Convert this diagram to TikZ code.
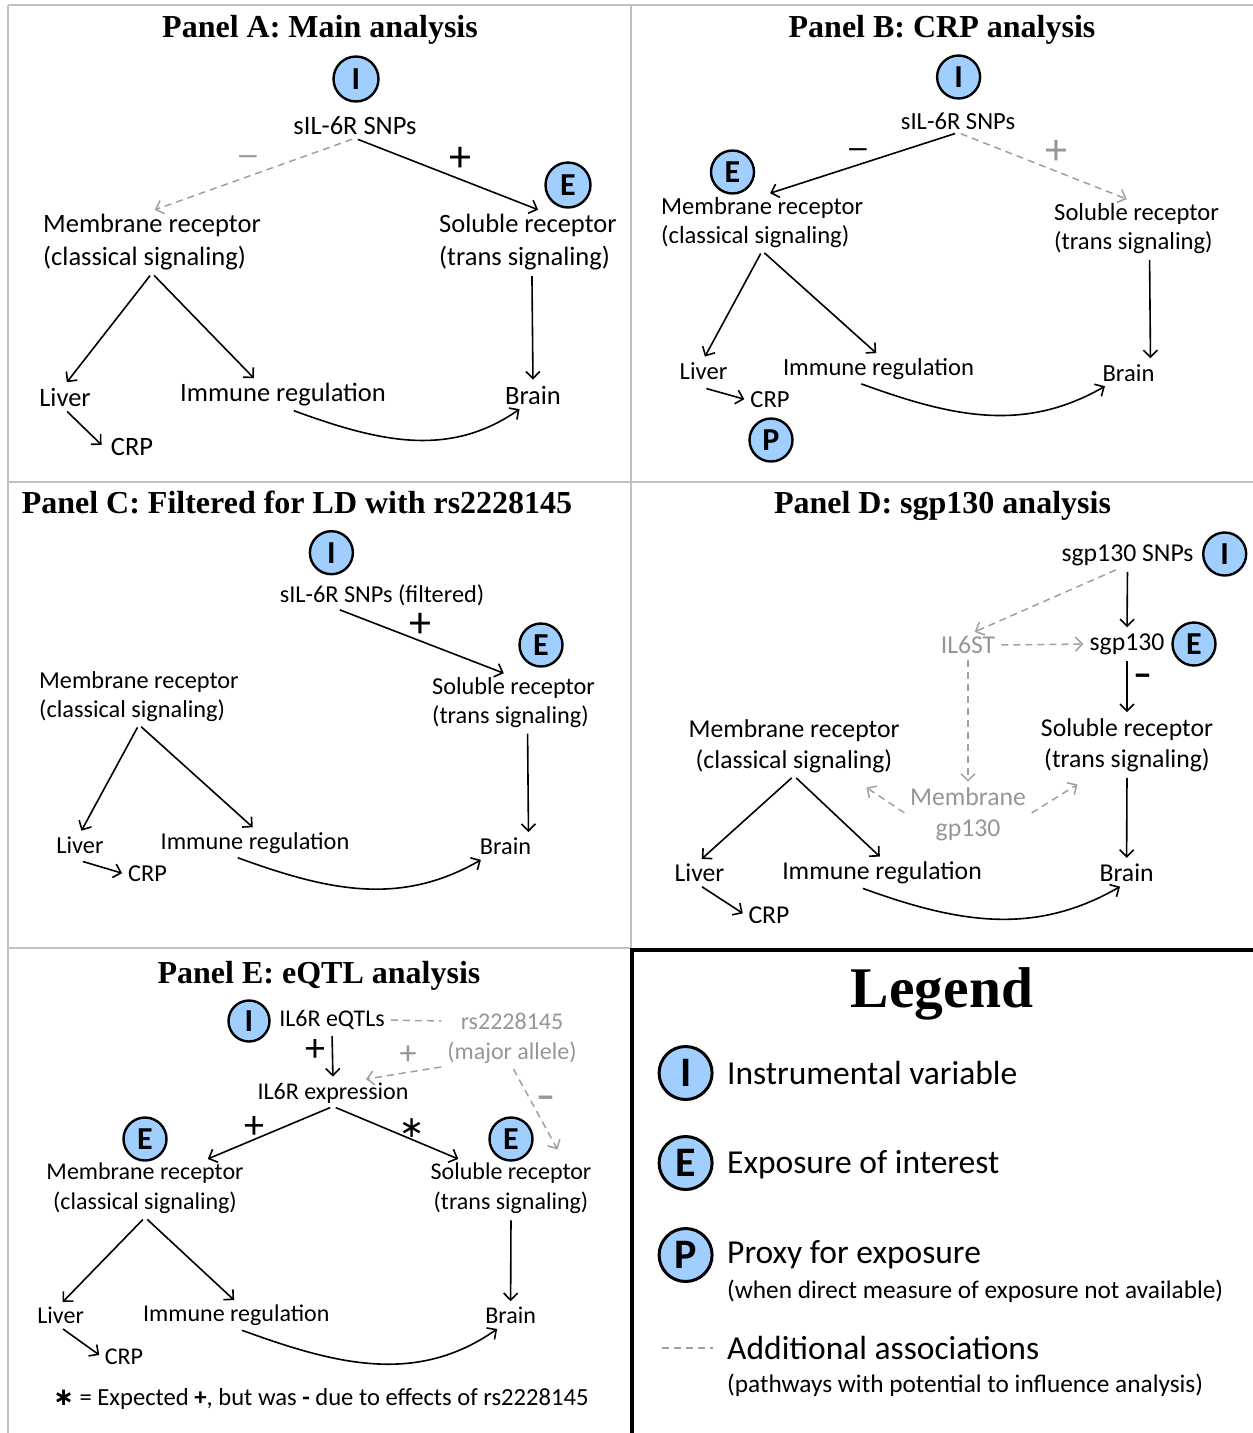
\documentclass[tikz,border=0pt]{standalone}
\usepackage{fontspec}
\setmainfont{Carlito}
\newfontfamily\ttlfont{Liberation Serif}
\newfontfamily\djv{DejaVu Sans}
\usetikzlibrary{arrows.meta}
\definecolor{cblue}{RGB}{160,207,255}
\definecolor{gtxt}{RGB}{150,150,150}
\definecolor{gline}{RGB}{160,160,160}
\definecolor{framec}{RGB}{192,192,192}
\tikzset{
  ttl/.style={font=\ttlfont\bfseries\fontsize{32}{36}\selectfont, inner sep=0pt, anchor=base},
  circ/.style={circle, draw=black, line width=2.4pt, fill=cblue, inner sep=0pt, minimum size=43pt, font=\bfseries\fontsize{32}{32}\selectfont},
  lcirc/.style={circ, minimum size=53pt, line width=3pt, font=\bfseries\fontsize{42}{42}\selectfont},
  t/.style={inner sep=3pt, align=center},
  fa/.style={font=\fontsize{26.5}{33}\selectfont},
  fb/.style={font=\fontsize{24.6}{29}\selectfont},
  fc/.style={font=\fontsize{24.3}{29}\selectfont},
  fd/.style={font=\fontsize{25.7}{31}\selectfont},
  fe/.style={font=\fontsize{24}{30}\selectfont},
  lgm/.style={font=\fontsize{33.5}{36}\selectfont},
  lgs/.style={font=\fontsize{25.3}{28}\selectfont},
  arr/.style={line width=1.6pt, -{Straight Barb[length=7pt,width=14pt]}, shorten <=3pt, shorten >=3pt},
  dsh/.style={arr, draw=gline, dash pattern=on 7pt off 5pt, line width=1.5pt},
  gt/.style={text=gtxt},
  sym/.style={inner sep=0pt, font=\fontsize{44}{44}\selectfont},
  mns/.style={inner sep=0pt, font=\bfseries\fontsize{24}{24}\selectfont},
  mnsm/.style={inner sep=0pt, font=\bfseries\fontsize{38}{38}\selectfont},
  framel/.style={draw=framec, line width=1.5pt}
}
\begin{document}
\begin{tikzpicture}[x=1pt,y=-1pt]
\useasboundingbox (0,0) rectangle (1253,1433);
% frames
\draw[framel] (8,5) -- (1253,5);
\draw[framel] (8,5) -- (8,1433);
\draw[framel] (631,5) -- (631,948);
\draw[framel] (8,482) -- (1253,482);
\draw[framel] (8,948) -- (631,948);
\draw[line width=4pt] (630,950) -- (1253,950);
\draw[line width=3.5pt] (632,948) -- (632,1433);

% ---------------- Panel A
\node[ttl] (tA) at (320,37) {Panel A: Main analysis};
\node[circ, minimum size=45pt] (iA) at (356,79) {I};
\node[t,fa] (snpA) at (355,126) {sIL-6R SNPs};
\node[t,fa,align=left,anchor=west] (memA) at (40,242) {Membrane receptor\\(classical signaling)};
\node[t,fa,align=left,anchor=west] (solA) at (436,242) {Soluble receptor\\(trans signaling)};
\node[circ, minimum size=45pt] (eA) at (568,185) {E};
\node[t,fa] (lvA) at (65,397) {Liver};
\node[t,fa] (imA) at (283,395) {Immune regulation};
\node[t,fa] (brA) at (533,395) {Brain};
\node[t,fa] (crpA) at (132,447) {CRP};
\node[mns,gt] (mnA) at (248,160) {—};
\node[sym] (plA) at (460,159) {+};
\draw[dsh] (snpA.south) -- (memA.north);
\draw[arr] (snpA.south) -- ([xshift=13pt]solA.north);
\draw[arr] (memA.south) -- (lvA.north);
\draw[arr] (memA.south) -- ([xshift=-27pt]imA.north);
\draw[arr] ([xshift=4pt]solA.south) -- (brA.north);
\draw[arr] (lvA.south) -- ([xshift=-4pt]crpA.west);
\draw[arr] ([xshift=8pt]imA.south) to[out=-20,in=-145] ([xshift=-11pt]brA.south);

% ---------------- Panel B
\node[ttl] (tB) at (942,37) {Panel B: CRP analysis};
\node[circ] (iB) at (958.6,77) {I};
\node[t,fb] (snpB) at (958,121) {sIL-6R SNPs};
\node[circ] (eB) at (732.5,172) {E};
\node[t,fb,align=left,anchor=west] (memB) at (658,222.5) {Membrane receptor\\(classical signaling)};
\node[t,fb,align=left,anchor=west] (solB) at (1051,228.5) {Soluble receptor\\(trans signaling)};
\node[t,fb] (lvB) at (703.5,371) {Liver};
\node[t,fb] (imB) at (878.5,369) {Immune regulation};
\node[t,fb] (brB) at (1128.5,373) {Brain};
\node[t,fb] (crpB) at (770,400) {CRP};
\node[circ] (pB) at (771,440) {P};
\node[mns] (mnB) at (858,153) {—};
\node[sym,gt] (plB) at (1056,152) {+};
\draw[arr] (snpB.south) -- ([xshift=5pt]memB.north);
\draw[dsh] (snpB.south) -- ([xshift=-7pt]solB.north);
\draw[arr] (memB.south) -- (lvB.north);
\draw[arr] (memB.south) -- (imB.north);
\draw[arr] ([xshift=13pt]solB.south) -- ([xshift=22pt]brB.north);
\draw[arr] ([yshift=-5pt]lvB.south) -- (crpB.west);
\draw[arr] ([xshift=-20pt]imB.south) to[out=-20,in=-150] ([xshift=-21pt]brB.south);

% ---------------- Panel C
\node[ttl] (tC) at (297,513) {Panel C: Filtered for LD with rs2228145};
\node[circ] (iC) at (331.4,552.7) {I};
\node[t,fc] (snpC) at (382,595) {sIL-6R SNPs (filtered)};
\node[circ] (eC) at (541,645) {E};
\node[t,fc,align=left,anchor=west] (memC) at (36,696.5) {Membrane receptor\\(classical signaling)};
\node[t,fc,align=left,anchor=west] (solC) at (429,702.5) {Soluble receptor\\(trans signaling)};
\node[t,fc] (lvC) at (80,845) {Liver};
\node[t,fc] (imC) at (255,843) {Immune regulation};
\node[t,fc] (brC) at (505.5,846.7) {Brain};
\node[t,fc] (crpC) at (147.5,874) {CRP};
\node[sym] (plC) at (420,625) {+};
\draw[arr] ([xshift=-45pt]snpC.south) -- ([xshift=-7pt]solC.north);
\draw[arr] (memC.south) -- (lvC.north);
\draw[arr] (memC.south) -- (imC.north);
\draw[arr] ([xshift=14pt]solC.south) -- ([xshift=23pt]brC.north);
\draw[arr] ([yshift=-4pt]lvC.south) -- (crpC.west);
\draw[arr] ([xshift=-20pt]imC.south) to[out=-20,in=-150] ([xshift=-22pt]brC.south);

% ---------------- Panel D
\node[ttl] (tD) at (942.5,513) {Panel D: sgp130 analysis};
\node[t,fd] (snpD) at (1127.5,555) {sgp130 SNPs};
\node[circ] (iD) at (1224.7,554) {I};
\node[t,fd,gt] (ilD) at (968,645) {IL6ST};
\node[t,fd] (sgD) at (1127,644) {sgp130};
\node[circ] (eD) at (1194,644) {E};
\node[t,fd] (solD) at (1127,745) {Soluble receptor\\(trans signaling)};
\node[t,fd] (memD) at (794,746) {Membrane receptor\\(classical signaling)};
\node[t,fd,gt] (mgD) at (968,814.5) {Membrane\\gp130};
\node[t,fd] (lvD) at (699.5,873) {Liver};
\node[t,fd] (imD) at (882,873) {Immune regulation};
\node[t,fd] (brD) at (1126.6,873) {Brain};
\node[t,fd] (crpD) at (769,915) {CRP};
\node[mnsm] (mnD) at (1142.5,680) {–};
\draw[arr] (snpD.south) -- (sgD.north);
\draw[dsh] ([xshift=-9pt]snpD.south) -- ([xshift=4pt]ilD.north);
\draw[dsh] (ilD.east) -- (sgD.west);
\draw[arr] (sgD.south) -- (solD.north);
\draw[dsh] (ilD.south) -- (mgD.north);
\draw[dsh] (mgD.west) -- ([xshift=70pt,yshift=-10pt]memD.south);
\draw[dsh] (mgD.east) -- ([xshift=-47pt,yshift=-8pt]solD.south);
\draw[arr] (memD.south) -- (lvD.north);
\draw[arr] (memD.south) -- (imD.north);
\draw[arr] (solD.south) -- (brD.north);
\draw[arr] (lvD.south) -- (crpD.west);
\draw[arr] ([xshift=-22pt]imD.south) to[out=-20,in=-150] ([xshift=-4pt]brD.south);

% ---------------- Panel E
\node[ttl] (tE) at (319,983) {Panel E: eQTL analysis};
\node[circ, minimum size=41pt] (iE) at (249,1021) {I};
\node[t,fe] (eqE) at (332,1020) {IL6R eQTLs};
\node[t,fe,gt] (rsE) at (512,1038) {rs2228145\\(major allele)};
\node[t,fe] (exE) at (333,1093) {IL6R expression};
\node[circ] (eLE) at (145,1139) {E};
\node[circ] (eRE) at (511,1139) {E};
\node[t,fe] (memE) at (145,1188.7) {Membrane receptor\\(classical signaling)};
\node[t,fe] (solE) at (511,1188.7) {Soluble receptor\\(trans signaling)};
\node[t,fe] (lvE) at (60.6,1315.7) {Liver};
\node[t,fe] (imE) at (236.3,1315.7) {Immune regulation};
\node[t,fe] (brE) at (510.6,1315.7) {Brain};
\node[t,fe] (crpE) at (124,1356.7) {CRP};
\node[t,fe,font=\fontsize{24.6}{30}\selectfont] (ftE) at (321,1399) {{\djv\bfseries ∗} = Expected {\bfseries +}, but was {\bfseries -} due to effects of rs2228145};
\node[sym, font=\fontsize{40}{40}\selectfont] (plE1) at (315,1050) {+};
\node[sym, gt, font=\fontsize{34}{34}\selectfont] (plE2) at (408,1055) {+};
\node[sym, font=\fontsize{40}{40}\selectfont] (plE3) at (254,1127) {+};
\node[sym, font=\djv\fontsize{30}{30}\selectfont] (stE) at (412,1128) {∗};
\node[mnsm, gt] (mnE) at (546,1102) {–};
\draw[dsh,-] (eqE.east) -- ([yshift=17pt]rsE.west);
\draw[arr] (eqE.south) -- (exE.north);
\draw[dsh] (rsE.south west) -- ([xshift=30pt]exE.north);
\draw[dsh] (rsE.south) -- ([xshift=48pt,yshift=8pt]solE.north);
\draw[arr] (exE.south) -- ([xshift=60pt]memE.north);
\draw[arr] (exE.south) -- ([xshift=-50pt]solE.north);
\draw[arr] (memE.south) -- (lvE.north);
\draw[arr] (memE.south) -- (imE.north);
\draw[arr] (solE.south) -- (brE.north);
\draw[arr] (lvE.south) -- (crpE.west);
\draw[arr] ([xshift=3pt]imE.south) to[out=-20,in=-145] ([xshift=-11pt]brE.south);

% ---------------- Legend
\node[ttl, font=\ttlfont\bfseries\fontsize{57.5}{60}\selectfont] (lgT) at (942,1007) {Legend};
\node[lcirc] (lI) at (685.6,1073) {I};
\node[lcirc] (lE) at (685.6,1163) {E};
\node[lcirc] (lP) at (685.6,1255) {P};
\node[t,lgm,anchor=west] (lIt) at (724,1073) {Instrumental variable};
\node[t,lgm,anchor=west] (lEt) at (724,1165) {Exposure of interest};
\node[t,lgm,anchor=west] (lPt) at (724,1255) {Proxy for exposure};
\node[t,lgs,anchor=west] (lPs) at (724,1291.7) {(when direct measure of exposure not available)};
\node[t,lgm,anchor=west] (lAt) at (724,1348) {Additional associations};
\node[t,lgs,anchor=west] (lAs) at (724,1385) {(pathways with potential to influence analysis)};
\coordinate (lgd) at (662,1348);
\draw[dsh,-,shorten <=0pt,shorten >=0pt] (lgd) -- ([xshift=-11pt]lAt.west);
\end{tikzpicture}
\end{document}
